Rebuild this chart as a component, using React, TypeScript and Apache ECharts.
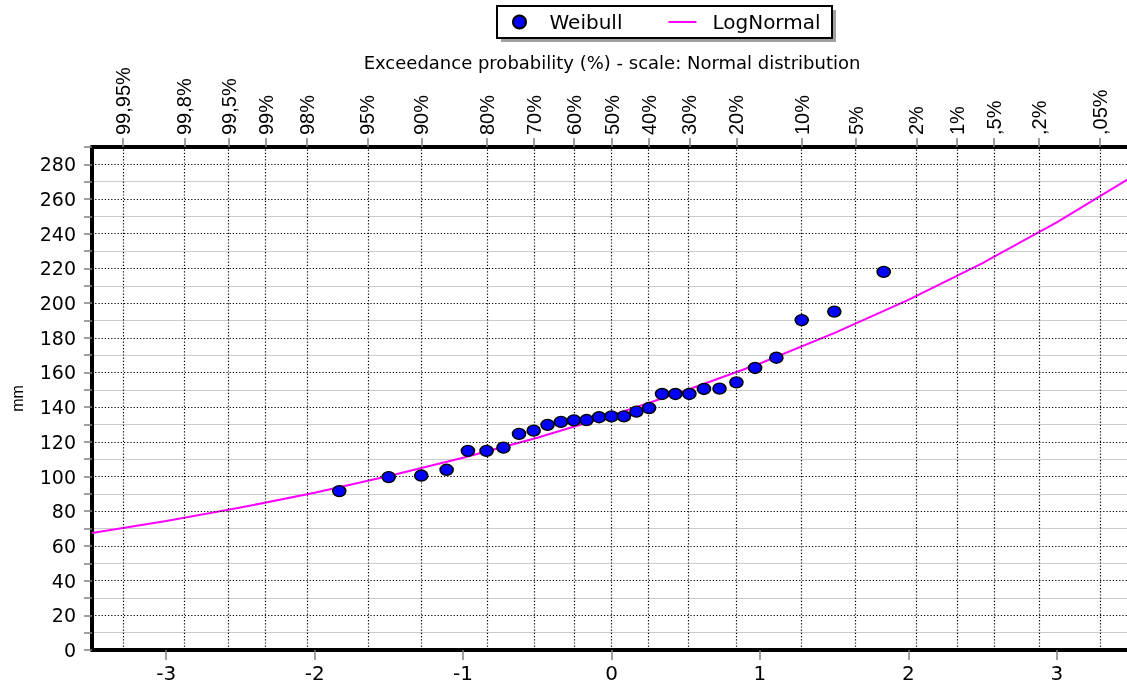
import React, { useEffect, useRef } from 'react';
import * as echarts from 'echarts';

// Top axis: exceedance probability labels and their standard-normal positions
const probLabels = ['99,95%', '99,8%', '99,5%', '99%', '98%', '95%', '90%', '80%', '70%', '60%', '50%', '40%', '30%', '20%', '10%', '5%', '2%', '1%', ',5%', ',2%', ',05%'];
const probZ = [-3.2905, -2.8782, -2.5758, -2.3263, -2.0537, -1.6449, -1.2816, -0.8416, -0.5244, -0.2533, 0, 0.2533, 0.5244, 0.8416, 1.2816, 1.6449, 2.0537, 2.3263, 2.5758, 2.8782, 3.2905];

// Bottom axis ticks
const zTicks = [-3, -2, -1, 0, 1, 2, 3];

// Horizontal major (dotted) grid values
const yMajor = [20, 40, 60, 80, 100, 120, 140, 160, 180, 200, 220, 240, 260, 280];

// Weibull plotting positions (reduced variate) and observed values (mm)
const weibullZ = [-1.8339, -1.5011, -1.2816, -1.1108, -0.9674, -0.8416, -0.7279, -0.6229, -0.5244, -0.4307, -0.3407, -0.2533, -0.1679, -0.0836, 0, 0.0836, 0.1679, 0.2533, 0.3407, 0.4307, 0.5244, 0.6229, 0.7279, 0.8416, 0.9674, 1.1108, 1.2816, 1.5011, 1.8339];
const weibullY = [91.6, 99.7, 100.6, 103.9, 114.8, 114.8, 116.7, 124.6, 126.5, 129.8, 131.5, 132.4, 132.6, 134.2, 134.7, 134.7, 137.4, 139.5, 147.6, 147.6, 147.6, 150.5, 150.7, 154.3, 162.6, 168.5, 190.2, 195.1, 218.0];

// LogNormal fitted curve
const lnZ = [-3.5, -3, -2.5, -2, -1.5, -1, -0.5, 0, 0.5, 1, 1.5, 2, 2.5, 3, 3.5];
const lnY = [67.5, 74.4, 82.1, 90.7, 100.3, 110.8, 122.4, 135.3, 149.6, 165.2, 182.7, 201.9, 223.1, 246.6, 272.5];

const W = 1140;
const H = 686;
const dash: number[] = [1.2, 2];

export default function App() {
  const ref = useRef<HTMLDivElement>(null);
  useEffect(() => {
    document.body.style.margin = '0';
    document.body.style.overflow = 'hidden';
    const chart = echarts.init(ref.current!, null, { renderer: 'svg' });
    const axisLineStyle = { show: true, onZero: false, lineStyle: { color: '#000', width: 4 } };
    const option: any = {
      animation: false,
      textStyle: { fontFamily: 'DejaVu Sans' },
      grid: { left: 92, right: W - 1131, top: 147, bottom: H - 650, containLabel: false },
      legend: {
        data: [
          { name: 'Weibull', icon: 'circle' },
          { name: 'LogNormal', icon: 'path://M0 0H100V7H0Z' },
        ],
        left: 512,
        top: 12,
        padding: 0,
        itemWidth: 28,
        itemHeight: 13,
        itemGap: 46,
        z: 10,
        textStyle: { fontSize: 20, color: '#000', fontFamily: 'DejaVu Sans', padding: [0, 0, 0, 11] },
      },
      graphic: [
        { type: 'rect', z: 1, shape: { x: 501, y: 10, width: 335, height: 32 }, style: { fill: '#a0a0a0' } },
        { type: 'rect', z: 2, shape: { x: 497, y: 6, width: 335, height: 32 }, style: { fill: '#fff', stroke: '#000', lineWidth: 2 } },
        {
          type: 'text', z: 2, x: 612, y: 62,
          style: {
            text: 'Exceedance probability (%) - scale: Normal distribution',
            fontSize: 18, fontFamily: 'DejaVu Sans', fill: '#000',
            textAlign: 'center', textVerticalAlign: 'middle', align: 'center', verticalAlign: 'middle',
          },
        },
      ],
      xAxis: [
        {
          type: 'value', position: 'bottom', min: -3.5, max: 3.5,
          axisLine: axisLineStyle,
          axisTick: { show: true, customValues: zTicks, length: 10, lineStyle: { color: '#808080', width: 1.5 } },
          axisLabel: { show: true, customValues: zTicks, fontSize: 20, color: '#000', margin: 13 },
          splitLine: { show: false },
        },
        {
          type: 'value', position: 'top', min: -3.5, max: 3.5,
          axisLine: axisLineStyle,
          axisTick: { show: true, customValues: probZ, length: 9, lineStyle: { color: '#808080', width: 1.5 } },
          axisLabel: {
            show: true, customValues: probZ, rotate: -90, fontSize: 20, fontFamily: 'Liberation Sans', color: '#000', margin: 12,
            formatter: (v: number) => {
              const i = probZ.findIndex((z) => Math.abs(z - v) < 1e-6);
              return i >= 0 ? probLabels[i] : '';
            },
          },
          splitLine: { show: false },
        },
      ],
      yAxis: {
        type: 'value', min: 0, max: 290, interval: 10,
        name: 'mm', nameLocation: 'middle', nameGap: 67, nameRotate: 90,
        nameTextStyle: { fontSize: 16, fontFamily: 'Liberation Sans', color: '#000' },
        axisLine: axisLineStyle,
        axisTick: { show: true, length: 8, lineStyle: { color: '#808080', width: 1.5 } },
        axisLabel: { fontSize: 19, color: '#000', margin: 16, formatter: (v: number) => (v % 20 === 0 ? String(v) : '') },
        splitLine: { show: true, lineStyle: { color: ['rgba(0,0,0,0)', '#cccccc'], width: 1 } },
      },
      series: [
        {
          name: 'grid', type: 'line', data: [[0, -10]], symbol: 'none', silent: true, z: 1,
          lineStyle: { opacity: 0 },
          markLine: {
            silent: true, symbol: ['none', 'none'], label: { show: false }, animation: false,
            lineStyle: { color: '#000', type: dash, width: 1.2 },
            emphasis: { disabled: true },
            data: [...probZ.map((z) => ({ xAxis: z })), ...yMajor.map((v) => ({ yAxis: v }))],
          },
        },
        {
          name: 'LogNormal', type: 'line', z: 4, symbol: 'none',
          data: lnZ.map((z, i) => [z, lnY[i]]),
          lineStyle: { color: '#ff00ff', width: 2 },
          itemStyle: { color: '#ff00ff' },
        },
        {
          name: 'Weibull', type: 'scatter', z: 5,
          symbol: 'path://M0 50 A50 50 0 1 1 100 50 A50 50 0 1 1 0 50 Z',
          symbolSize: [13, 11],
          data: weibullZ.map((z, i) => [z, weibullY[i]]),
          itemStyle: { color: '#0000ff', borderColor: '#000', borderWidth: 1.5, opacity: 1 },
        },
      ],
    };
    chart.setOption(option);
    return () => chart.dispose();
  }, []);
  return <div ref={ref} style={{ position: 'fixed', left: 0, top: 0, width: W, height: H }} />;
}
